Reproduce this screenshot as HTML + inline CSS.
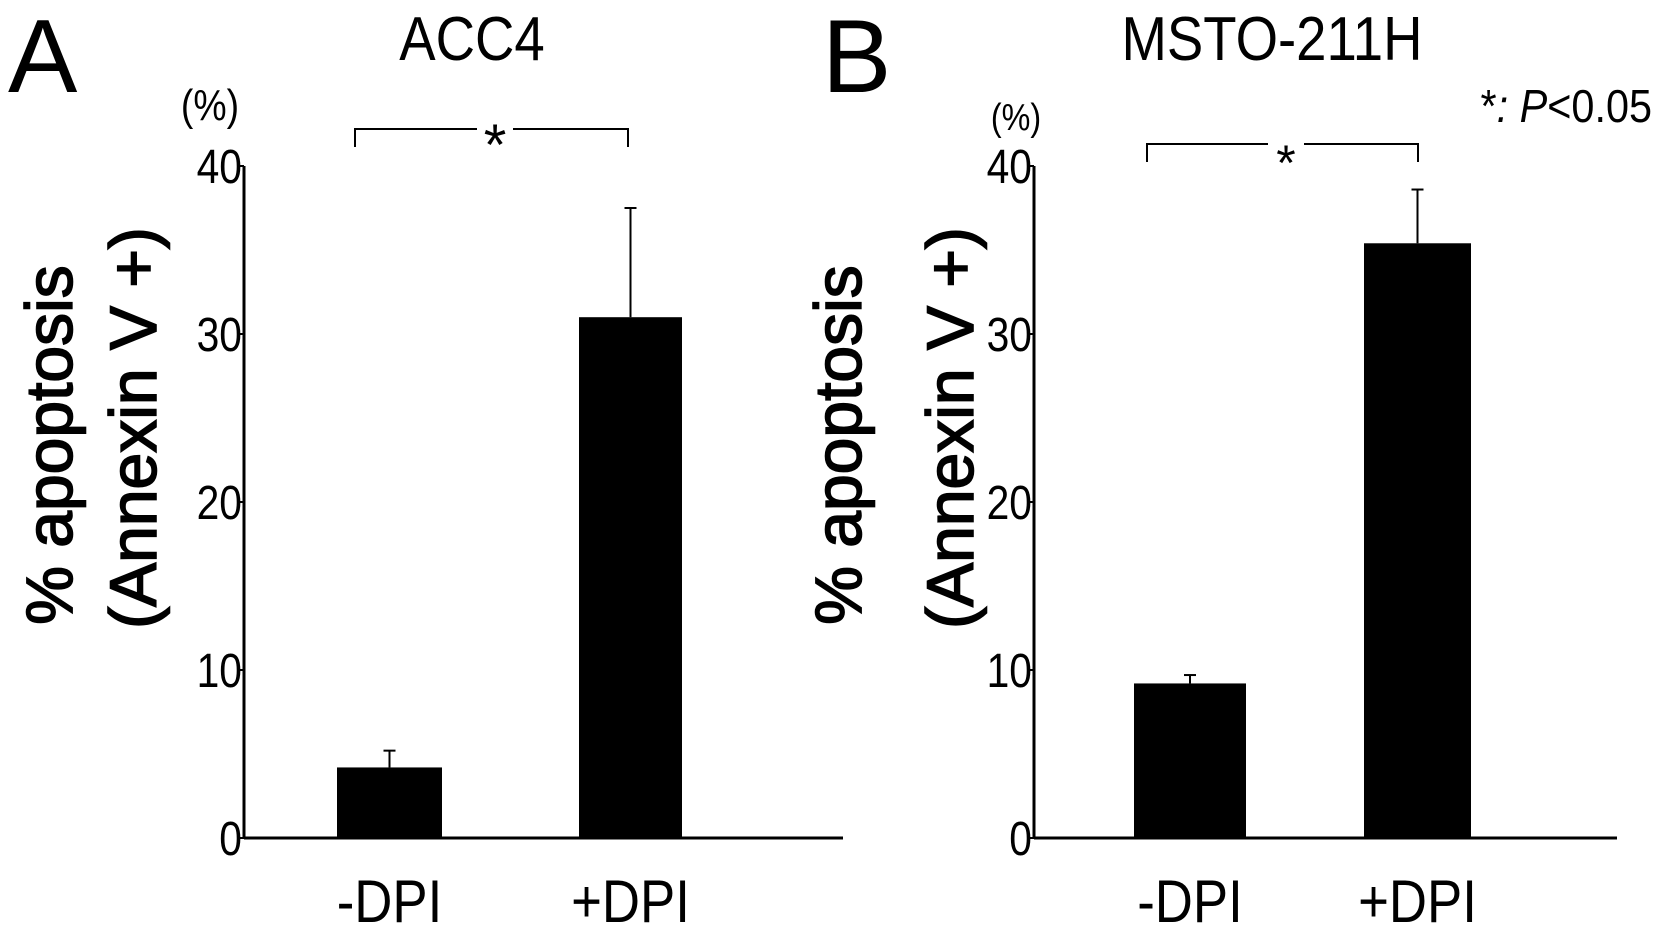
<!DOCTYPE html>
<html><head><meta charset="utf-8"><style>
html,body{margin:0;padding:0;background:#fff;}
svg{display:block;font-family:"Liberation Sans",sans-serif;}
</style></head><body>
<svg id="chart" width="1654" height="934" viewBox="0 0 1654 934">
<g id="g"></g>
</svg>
<script>
const categories = ["-DPI", "+DPI"];
const meanA = [4.2, 31.0];
const errA = [5.2, 37.5];
const meanB = [9.2, 35.4];
const errB = [9.7, 38.6];
const ticks = [0, 10, 20, 30, 40];
const titles = ["ACC4", "MSTO-211H"];

const NS = "http://www.w3.org/2000/svg";
const g = document.getElementById('g');
function el(tag, attrs, text, parent) {
  const e = document.createElementNS(NS, tag);
  for (const k in attrs) e.setAttribute(k, attrs[k]);
  if (text !== undefined) e.textContent = text;
  (parent || g).appendChild(e);
  return e;
}
function cond(x, s) { return `translate(${x},0) scale(${s},1) translate(${-x},0)`; }
const base = 838, pxPer = 16.8;
function y(v) { return base - v * pxPer; }

const panels = [
  {name:"a", axisX:244, axisEnd:843, bars:[[337,442],[579,682]], mean:meanA, err:errA,
   title:titles[0], titleX:472, letter:"A", letterX:8, pct:[210,120,44], br:[355,628,129,495],
   yl1:48, yl2:132},
  {name:"b", axisX:1034, axisEnd:1617, bars:[[1134,1246],[1364,1471]], mean:meanB, err:errB,
   title:titles[1], titleX:1272, letter:"B", letterX:822, pct:[1016,130,38], br:[1147,1418,144,1286],
   yl1:837, yl2:949}
];

panels.forEach(p => {
  const pg = el('g', {});
  
  
  let t = el('text', {x:p.letterX, y:92, 'font-size':104}, p.letter, pg);
  
  
  t = el('text', {x:p.titleX, y:60, 'font-size':62, 'text-anchor':'middle', transform:cond(p.titleX,0.88)}, p.title, pg);
  
  
  t = el('text', {x:p.pct[0], y:p.pct[1], 'font-size':p.pct[2], 'text-anchor':'middle', transform:cond(p.pct[0],0.85)}, "(%)", pg);
  
  
  t = el('text', {x:0, y:0, 'font-size':66, stroke:'#000', 'stroke-width':1.6, 'text-anchor':'middle', transform:`translate(${p.yl1+24},445) rotate(-90)`}, "% apoptosis", pg);
  
  
  t = el('text', {x:0, y:0, 'font-size':66, stroke:'#000', 'stroke-width':1.6, 'text-anchor':'middle', transform:`translate(${p.yl2+24},428) rotate(-90)`}, "(Annexin V +)", pg);
  
  
  let a = el('line', {x1:p.axisX, y1:y(40), x2:p.axisX, y2:base, stroke:'#000', 'stroke-width':3}, undefined, pg);
  
  
  a = el('line', {x1:p.axisX, y1:base, x2:p.axisEnd, y2:base, stroke:'#000', 'stroke-width':3}, undefined, pg);
  
  
  ticks.forEach(v => {
    const tk = el('line', {x1:p.axisX-6, y1:y(v), x2:p.axisX, y2:y(v), stroke:'#000', 'stroke-width':2}, undefined, pg);
    
    
    const tl = el('text', {x:p.axisX-2, y:y(v)+17, 'font-size':48, 'text-anchor':'end', transform:cond(p.axisX-2,0.85)}, String(v), pg);
    
    
  });
  categories.forEach((c, i) => {
    const [x0, x1] = p.bars[i];
    const cx = (x0 + x1) / 2;
    const er = el('line', {x1:cx, y1:y(p.err[i]), x2:cx, y2:y(p.mean[i]), stroke:'#000', 'stroke-width':2}, undefined, pg);
    
    
    const cap = el('line', {x1:cx-6, y1:y(p.err[i]), x2:cx+6, y2:y(p.err[i]), stroke:'#000', 'stroke-width':2}, undefined, pg);
    
    
    const b = el('rect', {x:x0, y:y(p.mean[i]), width:x1-x0, height:base-y(p.mean[i]), fill:'#000'}, undefined, pg);
    
    
    const xl = el('text', {x:cx, y:922, 'font-size':60, 'text-anchor':'middle', transform:cond(cx,0.88)}, c, pg);
    
    
  });
  const [bx0, bx1, by, sx] = p.br;
  const br = el('path', {d:`M${bx0},${by+18} V${by} H${bx1} V${by+18}`, fill:'none', stroke:'#000', 'stroke-width':2}, undefined, pg);
  
  
  el('rect', {x:sx-18, y:by-3, width:36, height:6, fill:'#fff'}, undefined, pg);
  const st = el('text', {x:sx, y:by+36, 'font-size':p.name==='a'?58:50, 'text-anchor':'middle'}, "*", pg);
  
  
});
const note = el('text', {x:1652, y:122, 'font-size':46, 'text-anchor':'end', transform:cond(1652,0.9)});


note.innerHTML = '<tspan>*</tspan><tspan font-style="italic">: P</tspan><tspan>&lt;0.05</tspan>';
</script>
</body></html>
